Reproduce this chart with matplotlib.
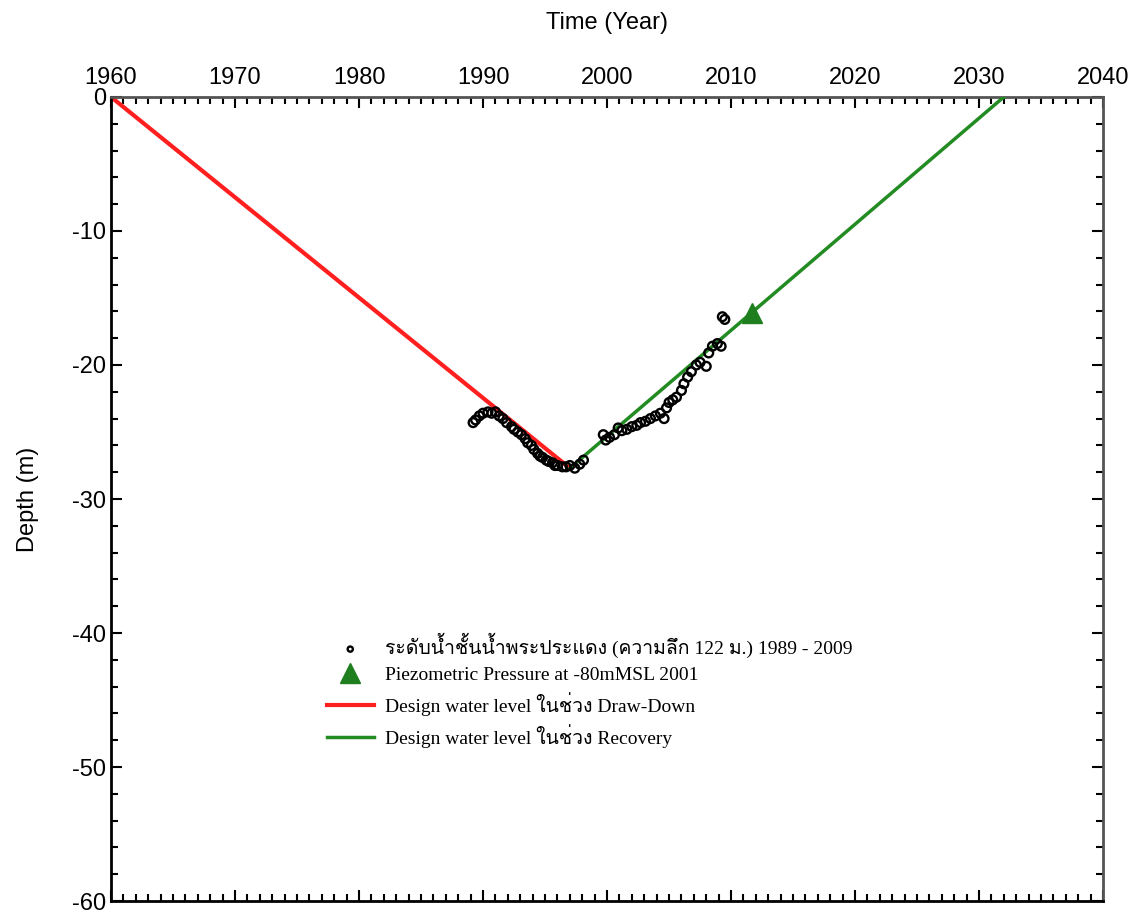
import matplotlib
matplotlib.use("Agg")
import matplotlib.pyplot as plt
from matplotlib import font_manager
from matplotlib.ft2font import FT2Font
from matplotlib.ticker import MultipleLocator

# observed water level, Phra Pradaeng aquifer (1989 - 2009)
obs_year = [1989.2, 1989.4, 1989.7, 1990.0, 1990.4, 1990.7, 1991.0, 1991.3, 1991.6, 1991.9,
            1992.3, 1992.5, 1992.8, 1993.1, 1993.4, 1993.6, 1993.9, 1994.1, 1994.4, 1994.6,
            1994.8, 1995.1, 1995.3, 1995.6, 1995.8, 1996.0, 1996.4, 1996.7, 1997.0,
            1997.4, 1997.8, 1998.1, 1999.7, 1999.9, 2000.2, 2000.6, 2000.9, 2001.2, 2001.6,
            2002.0, 2002.4, 2002.7, 2003.1, 2003.5, 2003.9, 2004.3, 2004.6, 2004.8, 2005.0,
            2005.3, 2005.6, 2006.0, 2006.2, 2006.5, 2006.8, 2007.2, 2007.5, 2008.0, 2008.2,
            2008.5, 2008.9, 2009.2, 2009.3, 2009.5]
obs_depth = [-24.3, -24.1, -23.8, -23.6, -23.5, -23.6, -23.5, -23.8, -24.0, -24.3,
             -24.6, -24.8, -25.0, -25.2, -25.5, -25.8, -26.0, -26.3, -26.6, -26.8,
             -26.9, -27.1, -27.2, -27.3, -27.5, -27.5, -27.6, -27.6, -27.5,
             -27.7, -27.4, -27.1, -25.2, -25.6, -25.4, -25.2, -24.7, -24.9, -24.8,
             -24.6, -24.5, -24.3, -24.2, -24.0, -23.8, -23.6, -24.0, -23.2, -22.8,
             -22.6, -22.4, -21.9, -21.4, -20.9, -20.5, -20.0, -19.8, -20.1, -19.1,
             -18.6, -18.4, -18.6, -16.4, -16.6]

# design lines
down_year = [1960, 1997.0]
down_depth = [0, -27.7]
rec_year = [1997.0, 2032.0]
rec_depth = [-27.7, 0]

piezo_year = [2011.7]
piezo_depth = [-16.1]

labels = ["ระดับน้ำชั้นน้ำพระประแดง (ความลึก 122 ม.) 1989 - 2009",
          "Piezometric Pressure at -80mMSL 2001",
          "Design water level ในช่วง Draw-Down",
          "Design water level ในช่วง Recovery"]

# look for any installed font that can draw Thai
thai_fonts = []
for f in font_manager.fontManager.ttflist:
    try:
        if 0x0E19 in FT2Font(f.fname).get_charmap() and f.name not in thai_fonts:
            thai_fonts.append(f.name)
    except Exception:
        pass

plt.rcParams['font.family'] = ['Liberation Sans', 'DejaVu Sans']
plt.rcParams['axes.unicode_minus'] = False

fig = plt.figure(figsize=(11.34, 9.13), dpi=100)
ax = fig.add_axes([0.0979, 0.0131, 0.8748, 0.8807])

ax.plot(down_year, down_depth, color='#ff1f1f', lw=3, label=labels[2], zorder=2)
ax.plot(rec_year, rec_depth, color='#228b22', lw=2.5, label=labels[3], zorder=3)
ax.scatter(obs_year, obs_depth, s=40, facecolors='none', edgecolors='black',
           linewidths=1.7, label=labels[0], zorder=4)
ax.plot(piezo_year, piezo_depth, marker='^', ms=14, color='#1f7f1f', ls='none',
        label=labels[1], zorder=5)

ax.set_xlim(1960, 2040)
ax.set_ylim(-60, 0)
ax.xaxis.set_major_locator(MultipleLocator(10))
ax.xaxis.set_minor_locator(MultipleLocator(1))
ax.yaxis.set_major_locator(MultipleLocator(10))
ax.yaxis.set_minor_locator(MultipleLocator(2))
ax.tick_params(which='both', direction='in', top=True, right=True,
               labeltop=True, labelbottom=False, labelsize=17, width=1.5)
ax.tick_params(which='major', length=8)
ax.tick_params(which='minor', length=5)
ax.tick_params(axis='x', pad=6)
ax.xaxis.set_label_position('top')
ax.set_xlabel("Time (Year)", fontsize=17, labelpad=27)
ax.set_ylabel("Depth (m)", fontsize=17, labelpad=24)
for side in ['left', 'bottom']:
    ax.spines[side].set_linewidth(2)
for side in ['top', 'right']:
    ax.spines[side].set_linewidth(2)
    ax.spines[side].set_color('#555555')

handles, labs = ax.get_legend_handles_labels()
order = [labs.index(l) for l in labels]
leg = ax.legend([handles[i] for i in order], [labs[i] for i in order],
                loc='upper left', bbox_to_anchor=(0.2, 0.355), frameon=False,
                prop={'family': ['Liberation Serif'] + thai_fonts + ['DejaVu Sans'], 'size': 14},
                handlelength=2.4, handletextpad=0.6, labelspacing=0.42)
leg.legend_handles[0].set_sizes([14])

fig.savefig("out.png", dpi=100)
